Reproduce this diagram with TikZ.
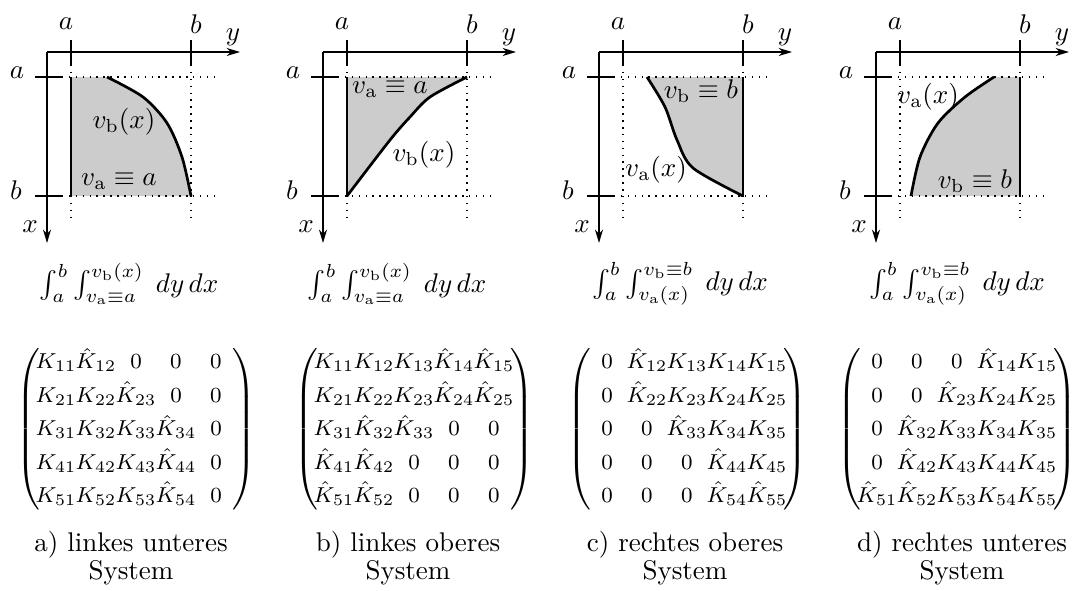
\documentclass[tikz,border=0pt]{standalone}
\usetikzlibrary{arrows.meta}
\newcommand{\mE}[1]{\makebox[14.8pt]{$#1$}}
\newcommand{\mR}[5]{\mE{#1}&\mE{#2}&\mE{#3}&\mE{#4}&\mE{#5}}
\newcommand{\mH}[1]{\hat{K}_{#1}}
\newcommand{\mK}[1]{K_{#1}}
\newcommand{\mL}{\left(\mkern-3mu}
\newcommand{\mRp}{\mkern-3mu\right)}
\renewcommand{\arraystretch}{1.3}
\setlength{\arraycolsep}{0pt}
\begin{document}
\begin{tikzpicture}[x=0.37pt,y=-0.37pt,
  axline/.style={line width=0.5pt,-{Stealth[length=5pt,width=3pt]}},
  tickline/.style={line width=0.5pt},
  dotline/.style={dotted,line width=0.55pt},
  bdline/.style={line width=1pt},
  shade/.style={fill=black!20},
  lbl/.style={inner sep=0pt},
  matbox/.style={inner sep=0pt,font=\footnotesize},
  capbox/.style={inner sep=0pt,align=center,font=\fontsize{10}{9.5}\selectfont}]
\useasboundingbox (0,0) rectangle (1075,591);
% shaded regions
\fill[shade] (71,77) -- plot[smooth] coordinates {(107,77) (143,97) (167,123) (182,157) (191,196)} -- (71,196) -- cycle;
\begin{scope}[shift={(276,0)}]
\fill[shade] (71,77) -- plot[smooth] coordinates {(191,77) (154,97) (134,117) (114,140) (71,196)} -- cycle;
\end{scope}
\begin{scope}[shift={(552,0)}]
\fill[shade] plot[smooth] coordinates {(95,77) (113,107) (125,140) (141,168) (191,196)} -- (191,77) -- cycle;
\end{scope}
\begin{scope}[shift={(829,0)}]
\fill[shade] plot[smooth] coordinates {(165,77) (136,97) (109,123) (91,157) (82,196)} -- (191,196) -- (191,77) -- cycle;
\end{scope}
% common axes
\foreach \o/\n in {0/1,276/2,552/3,829/4}{
\begin{scope}[shift={(\o,0)}]
\draw[dotline] (62,77) -- (217,77);
\draw[dotline] (62,196) -- (217,196);
\draw[dotline] (71,65) -- (71,220);
\draw[dotline] (191,65) -- (191,220);
\coordinate (O\n) at (47,52);
\coordinate (Y\n) at (240,52);
\coordinate (X\n) at (47,243);
\draw[axline] (O\n) -- (Y\n);
\draw[axline] (O\n) -- (X\n);
\draw[tickline] (71,40) -- (71,65);
\draw[tickline] (191,40) -- (191,65);
\draw[tickline] (35,77) -- (62,77);
\draw[tickline] (35,196) -- (62,196);
\node[lbl] (ta\n) at (66,24) {$a$};
\node[lbl] (tb\n) at (196,24) {$b$};
\node[lbl] (ty\n) at (233,37) {$y$};
\node[lbl] (la\n) at (17,73) {$a$};
\node[lbl] (lb\n) at (16,190) {$b$};
\node[lbl] (lx\n) at (30,227) {$x$};
\end{scope}}
% boundaries and labels
\draw[bdline] (71,77) -- (71,196);
\draw[bdline] plot[smooth] coordinates {(107,77) (143,97) (167,123) (182,157) (191,196)};
\node[lbl] (vb1) at (124,122) {$v_{\mathrm{b}}(x)$};
\node[lbl] (va1) at (119,181) {$v_{\mathrm{a}}\equiv a$};
\begin{scope}[shift={(276,0)}]
\draw[bdline] (71,77) -- (71,196);
\draw[bdline] plot[smooth] coordinates {(191,77) (154,97) (134,117) (114,140) (71,196)};
\end{scope}
\node[lbl] (va2) at (390,89) {$v_{\mathrm{a}}\equiv a$};
\node[lbl] (vb2) at (424,155) {$v_{\mathrm{b}}(x)$};
\begin{scope}[shift={(552,0)}]
\draw[bdline] (191,77) -- (191,196);
\draw[bdline] plot[smooth] coordinates {(95,77) (113,107) (125,140) (141,168) (191,196)};
\end{scope}
\node[lbl] (vb3) at (701,91) {$v_{\mathrm{b}}\equiv b$};
\node[lbl] (va3) at (656,170) {$v_{\mathrm{a}}(x)$};
\begin{scope}[shift={(829,0)}]
\draw[bdline] (191,77) -- (191,196);
\draw[bdline] plot[smooth] coordinates {(165,77) (136,97) (109,123) (91,157) (82,196)};
\end{scope}
\node[lbl] (va4) at (928,97) {$v_{\mathrm{a}}(x)$};
\node[lbl] (vb4) at (975,181) {$v_{\mathrm{b}}\equiv b$};
% integrals
\node[lbl] (i1) at (129,284) {$\int_a^b \int_{v_{\mathrm{a}}\equiv a}^{v_{\mathrm{b}}(x)}\; dy\,dx$};
\node[lbl] (i2) at (397,284) {$\int_a^b \int_{v_{\mathrm{a}}\equiv a}^{v_{\mathrm{b}}(x)}\; dy\,dx$};
\node[lbl] (i3) at (680,284) {$\int_a^b \int_{v_{\mathrm{a}}(x)}^{v_{\mathrm{b}}\equiv b}\; dy\,dx$};
\node[lbl] (i4) at (957,284) {$\int_a^b \int_{v_{\mathrm{a}}(x)}^{v_{\mathrm{b}}\equiv b}\; dy\,dx$};
% matrices
\node[matbox] (m1) at (136,429) {$\mL\begin{array}{ccccc}
\mR{\mK{11}}{\mH{12}}{0}{0}{0}\\
\mR{\mK{21}}{\mK{22}}{\mH{23}}{0}{0}\\
\mR{\mK{31}}{\mK{32}}{\mK{33}}{\mH{34}}{0}\\
\mR{\mK{41}}{\mK{42}}{\mK{43}}{\mH{44}}{0}\\
\mR{\mK{51}}{\mK{52}}{\mK{53}}{\mH{54}}{0}
\end{array}\mRp$};
\node[matbox] (m2) at (414,429) {$\mL\begin{array}{ccccc}
\mR{\mK{11}}{\mK{12}}{\mK{13}}{\mH{14}}{\mH{15}}\\
\mR{\mK{21}}{\mK{22}}{\mK{23}}{\mH{24}}{\mH{25}}\\
\mR{\mK{31}}{\mH{32}}{\mH{33}}{0}{0}\\
\mR{\mH{41}}{\mH{42}}{0}{0}{0}\\
\mR{\mH{51}}{\mH{52}}{0}{0}{0}
\end{array}\mRp$};
\node[matbox] (m3) at (687,429) {$\mL\begin{array}{ccccc}
\mR{0}{\mH{12}}{\mK{13}}{\mK{14}}{\mK{15}}\\
\mR{0}{\mH{22}}{\mK{23}}{\mK{24}}{\mK{25}}\\
\mR{0}{0}{\mH{33}}{\mK{34}}{\mK{35}}\\
\mR{0}{0}{0}{\mH{44}}{\mK{45}}\\
\mR{0}{0}{0}{\mH{54}}{\mH{55}}
\end{array}\mRp$};
\node[matbox] (m4) at (957,429) {$\mL\begin{array}{ccccc}
\mR{0}{0}{0}{\mH{14}}{\mK{15}}\\
\mR{0}{0}{\mH{23}}{\mK{24}}{\mK{25}}\\
\mR{0}{\mH{32}}{\mK{33}}{\mK{34}}{\mK{35}}\\
\mR{0}{\mH{42}}{\mK{43}}{\mK{44}}{\mK{45}}\\
\mR{\mH{51}}{\mH{52}}{\mK{53}}{\mK{54}}{\mK{55}}
\end{array}\mRp$};
% captions
\node[capbox] (c1) at (131,558) {a) linkes unteres\\System};
\node[capbox] (c2) at (408,558) {b) linkes oberes\\System};
\node[capbox] (c3) at (685,558) {c) rechtes oberes\\System};
\node[capbox] (c4) at (962,558) {d) rechtes unteres\\System};
\end{tikzpicture}
\end{document}
